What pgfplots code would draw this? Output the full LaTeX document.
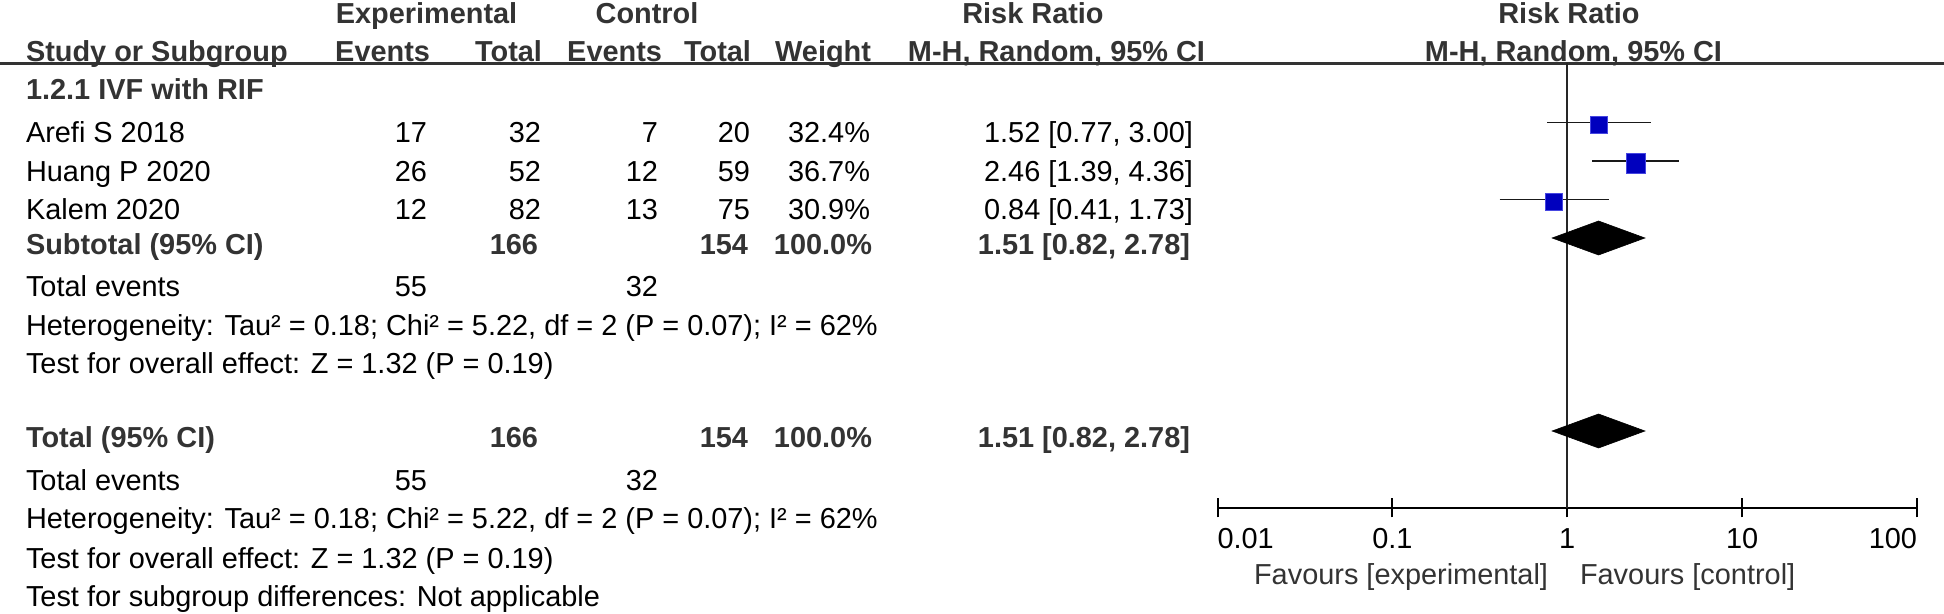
\documentclass[border=0pt]{standalone}
\usepackage{fontspec}
\setmainfont{Liberation Sans}
\usepackage{pgfplots}
\pgfplotsset{compat=1.18}
\definecolor{sqblue}{RGB}{0,0,190}
\definecolor{sqedge}{RGB}{70,70,225}
\definecolor{hdr}{RGB}{51,51,51}
\newcommand{\fs}{\fontsize{14.45pt}{17pt}\selectfont}
\begin{document}
\begin{tikzpicture}[x=0.5pt,y=-0.5pt,
  every node/.style={inner sep=0pt, outer sep=0pt, font=\fs},
  B/.style={font=\fs\bfseries, text=hdr},
  E/.style={anchor=base east}, W/.style={anchor=base west}, C/.style={anchor=base}]
\useasboundingbox (0,0) rectangle (1944,614);
% header
\node[B,C] at (426.5,24) {Experimental};
\node[B,C] at (647,24) {Control};
\node[B,C] at (1033,24) {Risk Ratio};
\node[B,C] at (1569,24) {Risk Ratio};
\node[B,W] at (26,62) {Study or Subgroup};
\node[B,E] at (430,62) {Events};
\node[B,E] at (542,62) {Total};
\node[B,E] at (662,62) {Events};
\node[B,E] at (751,62) {Total};
\node[B,E] at (871,62) {Weight};
\node[B,C] at (1056.5,62) {M-H, Random, 95\% CI};
\node[B,C] at (1573.5,62) {M-H, Random, 95\% CI};
\draw[hdr, line width=1.3pt] (0,63.5) -- (1944,63.5);
% subgroup
\node[B,W] at (26,100) {1.2.1 IVF with RIF};
\node[W] at (26,143) {Arefi S 2018};
\node[E] at (427,143) {17}; \node[E] at (541,143) {32}; \node[E] at (658,143) {7}; \node[E] at (750,143) {20}; \node[E] at (870,143) {32.4\%}; \node[E] at (1193,143) {1.52 [0.77, 3.00]};
\node[W] at (26,181.5) {Huang P 2020};
\node[E] at (427,181.5) {26}; \node[E] at (541,181.5) {52}; \node[E] at (658,181.5) {12}; \node[E] at (750,181.5) {59}; \node[E] at (870,181.5) {36.7\%}; \node[E] at (1193,181.5) {2.46 [1.39, 4.36]};
\node[W] at (26,219.5) {Kalem 2020};
\node[E] at (427,219.5) {12}; \node[E] at (541,219.5) {82}; \node[E] at (658,219.5) {13}; \node[E] at (750,219.5) {75}; \node[E] at (870,219.5) {30.9\%}; \node[E] at (1193,219.5) {0.84 [0.41, 1.73]};
\node[B,W] at (26,255) {Subtotal (95\% CI)};
\node[B,E] at (538,255) {166}; \node[B,E] at (748,255) {154}; \node[B,E] at (872,255) {100.0\%}; \node[B,E] at (1190,255) {1.51 [0.82, 2.78]};
\node[W] at (26,297) {Total events};
\node[E] at (427,297) {55}; \node[E] at (658,297) {32};
\node[W] at (26,336) {Heterogeneity: Tau² = 0.18; Chi² = 5.22, df = 2 (P = 0.07); I² = 62\%};
\node[W] at (26,374) {Test for overall effect: Z = 1.32 (P = 0.19)};
% total
\node[B,W] at (26,448) {Total (95\% CI)};
\node[B,E] at (538,448) {166}; \node[B,E] at (748,448) {154}; \node[B,E] at (872,448) {100.0\%}; \node[B,E] at (1190,448) {1.51 [0.82, 2.78]};
\node[W] at (26,491) {Total events};
\node[E] at (427,491) {55}; \node[E] at (658,491) {32};
\node[W] at (26,529) {Heterogeneity: Tau² = 0.18; Chi² = 5.22, df = 2 (P = 0.07); I² = 62\%};
\node[W] at (26,568) {Test for overall effect: Z = 1.32 (P = 0.19)};
\node[W] at (26,606) {Test for subgroup differences: Not applicable};
% favours
\node[E, text=hdr] at (1548,584) {Favours [experimental]};
\node[W, text=hdr] at (1580,584) {Favours [control]};
\begin{scope}[x=1cm,y=1cm]
\begin{axis}[
  at={(608.75pt,-254pt)}, anchor=south west,
  scale only axis, width=349.75pt, height=222.5pt,
  xmode=log, xmin=0.01, xmax=100, ymin=-508, ymax=-63,
  axis x line*=bottom, axis y line=none,
  x axis line style={line width=1pt, draw=black},
  xtick={0.01,0.1,1,10,100},
  xticklabels={\makebox[0pt][l]{0.01},\makebox[0pt]{0.1},\makebox[0pt]{1},\makebox[0pt]{10},\makebox[0pt][r]{100}},
  xminorticks=false,
  major tick length=9.5pt, tick align=center,
  tick style={line width=1pt, black},
  xticklabel style={anchor=base, font=\fs, yshift=-15.5pt},
  clip=false,
]
\addplot[draw=black!85, line width=0.95pt] coordinates {(1,-63) (1,-508)};
\addplot[black!90, line width=0.85pt] coordinates {(0.77,-122.5) (3.00,-122.5)};
\addplot[black!90, line width=0.85pt] coordinates {(1.39,-161) (4.36,-161)};
\addplot[black!90, line width=0.85pt] coordinates {(0.41,-199.5) (1.73,-199.5)};
\addplot[only marks, mark=square*, mark size=4.33pt, mark options={fill=sqblue, draw=sqedge, line width=0.3pt}] coordinates {(1.52,-124.5)};
\addplot[only marks, mark=square*, mark size=4.83pt, mark options={fill=sqblue, draw=sqedge, line width=0.3pt}] coordinates {(2.46,-163.3)};
\addplot[only marks, mark=square*, mark size=4.33pt, mark options={fill=sqblue, draw=sqedge, line width=0.3pt}] coordinates {(0.84,-202)};
\addplot[fill=black, draw=black, line width=0.3pt] coordinates {(0.82,-238) (1.51,-221) (2.78,-238) (1.51,-255)} -- cycle;
\addplot[fill=black, draw=black, line width=0.3pt] coordinates {(0.82,-431) (1.51,-414) (2.78,-431) (1.51,-448)} -- cycle;
\end{axis}
\end{scope}
\end{tikzpicture}
\end{document}
